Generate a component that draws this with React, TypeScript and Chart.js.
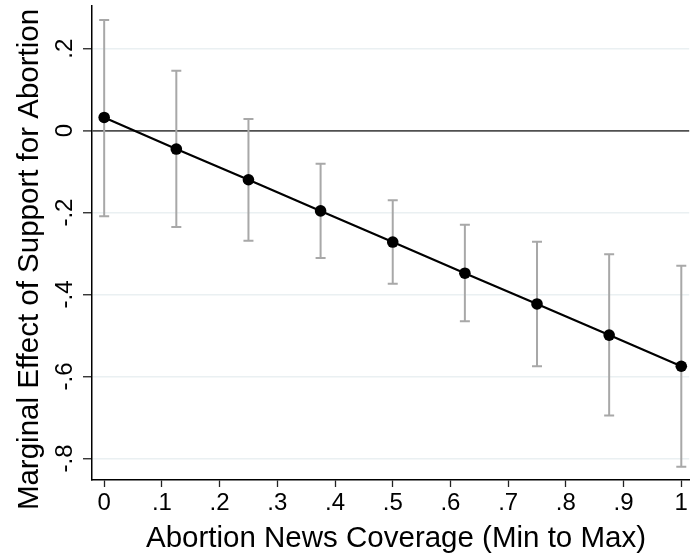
import { useEffect, useRef } from "react";
import { Chart, registerables } from "chart.js";

Chart.register(...registerables);

const coverage = [0, 0.125, 0.25, 0.375, 0.5, 0.625, 0.75, 0.875, 1];
const effect = [0.032, -0.045, -0.12, -0.196, -0.272, -0.348, -0.423, -0.499, -0.575];
const upperCI = [0.27, 0.146, 0.028, -0.081, -0.17, -0.23, -0.271, -0.302, -0.33];
const lowerCI = [-0.209, -0.235, -0.269, -0.311, -0.374, -0.465, -0.575, -0.695, -0.82];

const xTickValues = [0, 0.1, 0.2, 0.3, 0.4, 0.5, 0.6, 0.7, 0.8, 0.9, 1];
const xTickLabels = ["0", ".1", ".2", ".3", ".4", ".5", ".6", ".7", ".8", ".9", "1"];
const yTickValues = [0.2, 0, -0.2, -0.4, -0.6, -0.8];
const yTickLabels = [".2", "0", "-.2", "-.4", "-.6", "-.8"];

const xTitle = "Abortion News Coverage (Min to Max)";
const yTitle = "Marginal Effect of Support for Abortion";

const FONT = "'Liberation Sans', Arial, sans-serif";

export default function App() {
  const ref = useRef<HTMLCanvasElement | null>(null);

  useEffect(() => {
    document.body.style.margin = "0";
    const canvas = ref.current;
    if (!canvas) return;

    const errorBars = {
      id: "errorBars",
      beforeDatasetsDraw(chart: any) {
        const ctx = chart.ctx;
        const xs = chart.scales.x;
        const ys = chart.scales.y;
        ctx.save();
        ctx.strokeStyle = "#a8a8a8";
        ctx.lineWidth = 2;
        for (let i = 0; i < coverage.length; i++) {
          const px = xs.getPixelForValue(coverage[i]);
          const top = ys.getPixelForValue(upperCI[i]);
          const bot = ys.getPixelForValue(lowerCI[i]);
          ctx.beginPath();
          ctx.moveTo(px, top);
          ctx.lineTo(px, bot);
          ctx.moveTo(px - 5, top);
          ctx.lineTo(px + 5, top);
          ctx.moveTo(px - 5, bot);
          ctx.lineTo(px + 5, bot);
          ctx.stroke();
        }
        ctx.restore();
      },
    };

    const textPlugin = {
      id: "axisText",
      afterDraw(chart: any) {
        const ctx = chart.ctx;
        const xs = chart.scales.x;
        const ys = chart.scales.y;
        ctx.save();
        ctx.fillStyle = "#000";
        ctx.textBaseline = "alphabetic";
        ctx.textAlign = "center";
        ctx.font = `24px ${FONT}`;
        for (let i = 0; i < xTickValues.length; i++) {
          const px = xs.getPixelForValue(xTickValues[i]);
          ctx.fillText(xTickLabels[i], px, 510);
        }
        for (let i = 0; i < yTickValues.length; i++) {
          const py = ys.getPixelForValue(yTickValues[i]);
          ctx.save();
          ctx.translate(72, py);
          ctx.rotate(-Math.PI / 2);
          ctx.fillText(yTickLabels[i], 0, 0);
          ctx.restore();
        }
        ctx.font = `29.5px ${FONT}`;
        ctx.save();
        ctx.translate(38, 259.5);
        ctx.rotate(-Math.PI / 2);
        ctx.fillText(yTitle, 0, 0);
        ctx.restore();
        ctx.fillText(xTitle, 396, 546.5);
        ctx.restore();
      },
    };

    const chart = new Chart(canvas, {
      type: "line",
      data: {
        datasets: [
          {
            data: coverage.map((x, i) => ({ x, y: effect[i] })),
            borderColor: "#000",
            borderWidth: 2.2,
            backgroundColor: "#000",
            pointBackgroundColor: "#000",
            pointBorderColor: "#000",
            pointRadius: 5.8,
            pointBorderWidth: 0,
            tension: 0,
            fill: false,
          },
        ],
      },
      options: {
        responsive: false,
        animation: false,
        devicePixelRatio: 1,
        layout: { padding: { left: 0, top: 5, right: 0, bottom: 0 } },
        plugins: {
          legend: { display: false },
          tooltip: { enabled: false },
          title: { display: false },
        },
        scales: {
          x: {
            type: "linear",
            min: -0.0211,
            max: 1.0137,
            afterBuildTicks: (s: any) => {
              s.ticks = xTickValues.map((v) => ({ value: v }));
            },
            afterFit: (s: any) => {
              s.height = 76;
            },
            ticks: { display: false },
            grid: {
              drawOnChartArea: false,
              drawTicks: true,
              tickLength: 7,
              tickColor: "#222",
              tickWidth: 1.3,
            },
            border: { display: true, color: "#000", width: 1.5 },
          },
          y: {
            type: "linear",
            min: -0.8526,
            max: 0.3045,
            afterBuildTicks: (s: any) => {
              s.ticks = yTickValues.map((v) => ({ value: v }));
            },
            afterFit: (s: any) => {
              s.width = 92;
            },
            ticks: { display: false },
            grid: {
              drawTicks: true,
              tickLength: 9,
              tickColor: "#222",
              tickWidth: 1.3,
              color: (c: any) => (c.tick && c.tick.value === 0 ? "#505050" : "#eaf0f2"),
              lineWidth: (c: any) => (c.tick && c.tick.value === 0 ? 1.8 : 1.5),
            },
            border: { display: true, color: "#000", width: 1.5 },
          },
        },
      },
      plugins: [errorBars, textPlugin],
    });

    return () => chart.destroy();
  }, []);

  return (
    <div style={{ width: 695, height: 556 }}>
      <canvas ref={ref} width={695} height={556} style={{ display: "block" }} />
    </div>
  );
}
